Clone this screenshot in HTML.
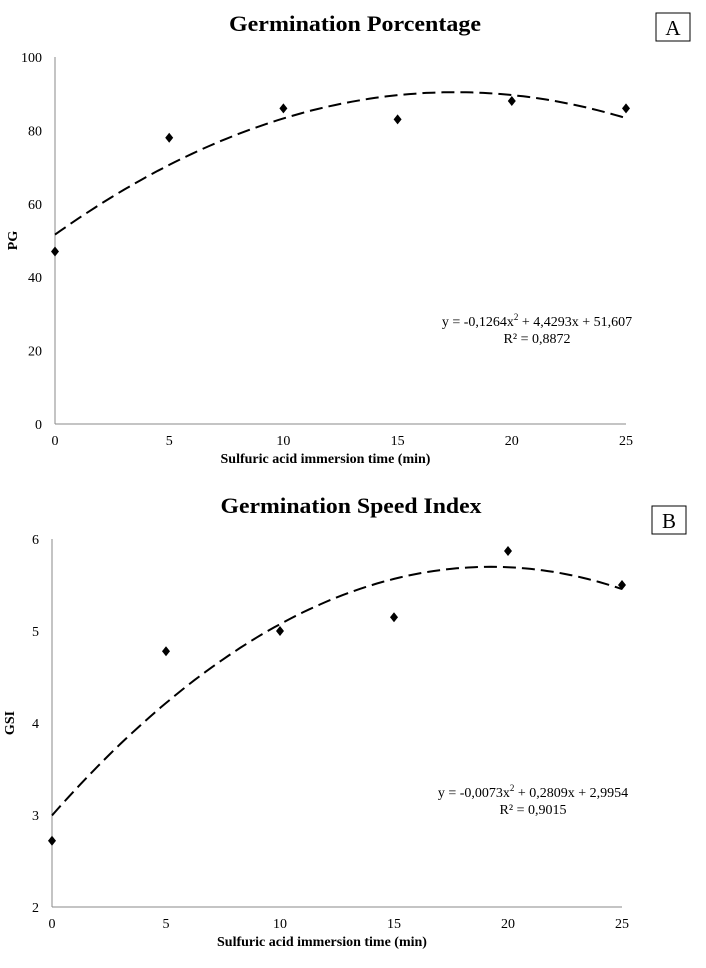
<!DOCTYPE html>
<html><head><meta charset="utf-8"><style>
body{margin:0;background:#fff;}
svg{display:block;font-family:"Liberation Serif",serif;}
</style></head><body>
<svg id="c" width="706" height="968"></svg>
<script>
const xTicks=[0,5,10,15,20,25];
const xA=[0,5,10,15,20,25];
const pgValues=[47,78,86,83,88,86];
const pgTicks=[0,20,40,60,80,100];
const pgCoef=[-0.1264,4.4293,51.607];
const xB=[0,5,10,15,20,25];
const gsiValues=[2.72,4.78,5.0,5.15,5.87,5.5];
const gsiTicks=[2,3,4,5,6];
const gsiCoef=[-0.0073,0.2809,2.9954];
const NS="http://www.w3.org/2000/svg";
const svg=document.getElementById('c');
function mk(tag,attrs,parent,text){const e=document.createElementNS(NS,tag);for(const k in attrs)e.setAttribute(k,attrs[k]);if(text!==undefined)e.textContent=text;(parent||svg).appendChild(e);return e;}
function chart(o){
 const g=mk('g',{});
 
 
 const sx=v=>o.x0+(v-0)/(25)*(o.x1-o.x0);
 const sy=v=>o.yb+(v-o.ymin)/(o.ymax-o.ymin)*(o.yt-o.yb);
 let t=mk('text',{x:o.titleX,y:o.titleY,'text-anchor':'middle','font-size':22,'font-weight':'bold',textLength:o.titleW,lengthAdjust:'spacingAndGlyphs'},g,o.title);
 
 let b=mk('rect',{x:o.boxX,y:o.boxY,width:34,height:28,fill:'none',stroke:'#000','stroke-width':1},g);
 
 t=mk('text',{x:o.boxX+17,y:o.boxY+22,'text-anchor':'middle','font-size':21},g,o.label);
 
 let l=mk('line',{x1:o.x0,y1:o.yt,x2:o.x0,y2:o.yb,stroke:'#888'},g);
 
 l=mk('line',{x1:o.x0,y1:o.yb,x2:o.x1,y2:o.yb,stroke:'#888'},g);
 
 o.yTicks.forEach(v=>{const e=mk('text',{x:o.x0-13,y:sy(v)+5,'text-anchor':'end','font-size':14},g,v);
  });
 xTicks.forEach(v=>{const e=mk('text',{x:sx(v),y:o.yb+21,'text-anchor':'middle','font-size':14},g,v);
  });
 t=mk('text',{x:(o.x0+o.x1)/2-15,y:o.yb+39,'text-anchor':'middle','font-size':14,'font-weight':'bold'},g,'Sulfuric acid immersion time (min)');
 
 const yc=(o.yt+o.yb)/2;
 t=mk('text',{x:o.x0-38,y:yc,'text-anchor':'middle','font-size':14,'font-weight':'bold',transform:`rotate(-90 ${o.x0-38} ${yc})`},g,o.ytitle);
 
 let d='';for(let i=0;i<=100;i++){const xv=25*i/100;const yv=o.coef[0]*xv*xv+o.coef[1]*xv+o.coef[2];d+=(i?'L':'M')+sx(xv).toFixed(1)+' '+sy(yv).toFixed(1);}
 const p=mk('path',{d:d,fill:'none',stroke:'#000','stroke-width':2,'stroke-dasharray':'13 6'},g);
 
 o.xs.forEach((xv,i)=>{const cx=sx(xv),cy=sy(o.vals[i]);
  const m=mk('path',{d:`M${cx} ${cy-5}L${cx+4} ${cy}L${cx} ${cy+5}L${cx-4} ${cy}Z`,fill:'#000'},g);
  });
 t=mk('text',{x:o.eqX,y:o.eqY,'text-anchor':'middle','font-size':14},g);
 
 t.innerHTML=o.eq;
 t=mk('text',{x:o.eqX,y:o.eqY+17,'text-anchor':'middle','font-size':14},g,o.r2);
 
}
chart({name:'germination-percentage-chart',title:'Germination Porcentage',label:'A',titleX:355,titleY:31,titleW:252,boxX:656,boxY:13,
 x0:55,x1:626,yt:57,yb:424,ymin:0,ymax:100,yTicks:pgTicks,xs:xA,vals:pgValues,coef:pgCoef,ytitle:'PG',
 eqX:537,eqY:326,eq:'y = -0,1264x<tspan font-size="9" dy="-6">2</tspan><tspan dy="6"> + 4,4293x + 51,607</tspan>',r2:'R² = 0,8872'});
chart({name:'germination-speed-index-chart',title:'Germination Speed Index',label:'B',titleX:351,titleY:513,titleW:261,boxX:652,boxY:506,
 x0:52,x1:622,yt:539,yb:907,ymin:2,ymax:6,yTicks:gsiTicks,xs:xB,vals:gsiValues,coef:gsiCoef,ytitle:'GSI',
 eqX:533,eqY:797,eq:'y = -0,0073x<tspan font-size="9" dy="-6">2</tspan><tspan dy="6"> + 0,2809x + 2,9954</tspan>',r2:'R² = 0,9015'});
</script>
</body></html>
